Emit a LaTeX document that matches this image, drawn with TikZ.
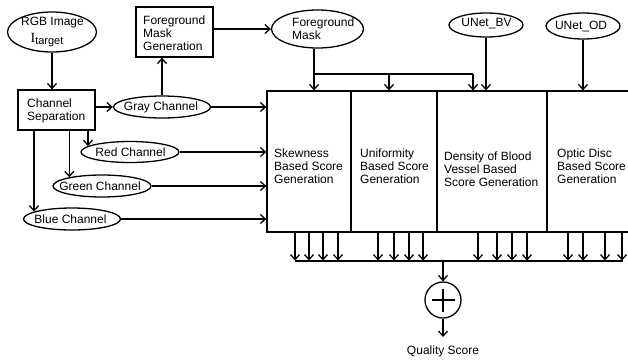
\documentclass[tikz,border=0pt]{standalone}
\usepackage{fontspec}
\setmainfont{Liberation Sans}
\newfontfamily\serifI{Liberation Serif}
\usetikzlibrary{arrows.meta,shapes.geometric}
\begin{document}
\begin{tikzpicture}[x=1pt,y=-1pt,
 every node/.style={font=\fontsize{12}{13}\selectfont},
 line/.style={line width=1.3pt},
 arr/.style={line width=1.3pt,-{Straight Barb[length=5pt,width=9pt]}},
 ell/.style 2 args={draw,line width=1.3pt,ellipse,minimum width=#1,minimum height=#2,inner sep=0pt},
 box/.style={draw,line width=1.3pt,rectangle,inner sep=0pt},
 txt/.style={inner sep=0pt,align=left},
]
\useasboundingbox (0,0) rectangle (628,360);
\clip (0,0) rectangle (628,360);
% ellipses and boxes
\node[ell={89}{40}] (rgb) at (52,32) {};
\node[txt] (rgbt1) at (52.5,23) {RGB Image};
\node[txt] (rgbt2) at (47,40) {{\serifI\fontsize{14}{14}\selectfont I}\raisebox{-2pt}{\fontsize{11}{11}\selectfont target}};
\node[box,minimum width=77,minimum height=50] (fmg) at (174.5,32) {};
\node[txt,anchor=west] (fmgt) at (143,33) {Foreground\\Mask\\Generation};
\node[box,minimum width=77,minimum height=40] (cs) at (56.5,110) {};
\node[txt,anchor=west] (cst) at (27,111) {Channel\\Separation};
\node[ell={92}{38}] (fm) at (317.5,29) {};
\node[txt,anchor=west] (fmt) at (292,29) {Foreground\\Mask};
\node[ell={74}{24}] (bv) at (486,25) {};
\node[txt] (bvt) at (486.5,24) {UNet\_BV};
\node[ell={74}{26}] (od) at (583,26) {};
\node[txt] (odt) at (581,26) {UNet\_OD};
\node[ell={97}{22}] (gray) at (162,107) {};
\node[txt] (grayt) at (161,107) {Gray Channel};
\node[ell={98}{21}] (red) at (130,152) {};
\node[txt] (redt) at (130.5,152) {Red Channel};
\node[ell={98}{22}] (green) at (102,186) {};
\node[txt] (greent) at (100,186) {Green Channel};
\node[ell={97}{22}] (blue) at (72,219) {};
\node[txt] (bluet) at (70.5,219) {Blue Channel};
% score sections
\node[box,minimum width=84,minimum height=141] (s1) at (309,161.5) {};
\node[box,minimum width=86,minimum height=141] (s2) at (394,161.5) {};
\node[box,minimum width=110,minimum height=141] (s3) at (492,161.5) {};
\node[box,minimum width=113,minimum height=141] (s4) at (603.5,161.5) {};
\node[txt,anchor=west] (t1) at (274,166) {Skewness\\Based Score\\Generation};
\node[txt,anchor=west] (t2) at (360,166) {Uniformity\\Based Score\\Generation};
\node[txt,anchor=west] (t3) at (444,169) {Density of Blood\\Vessel Based\\Score Generation};
\node[txt,anchor=west] (t4) at (557,166) {Optic Disc\\Based Score\\Generation};
% left connectors
\draw[arr] (rgb.south) -- (rgb.south |- cs.north);
\draw[arr] (cs.east |- gray.west) -- (gray.west);
\draw[arr] (gray.north) -- (gray.north |- fmg.south);
\draw[arr] (fmg.east |- fm.west) -- (fm.west);
\draw[arr] (gray.east) -- (gray.east -| s1.west);
\draw[arr] (red.east) -- (red.east -| s1.west);
\draw[arr] (green.east) -- (green.east -| s1.west);
\draw[arr] (blue.east) -- (blue.east -| s1.west);
\draw[arr] (cs.south -| red.172) -- (red.172);
\draw[arr] (cs.south -| green.165) -- (green.165);
\draw[arr] (cs.south -| blue.169) -- (blue.169);
% top connectors
\coordinate (brl) at (314,74);
\coordinate (brm) at (389,74);
\coordinate (brr) at (473,74);
\draw[arr] (fm.south -| brl) -- (brl |- s1.north);
\draw[line] (brl) -- (brr);
\draw[arr] (brm) -- (brm |- s2.north);
\draw[arr] (brr) -- (brr |- s3.north);
\draw[arr] (bv.south) -- (bv.south |- s3.north);
\draw[arr] (od.south) -- (od.south |- s4.north);
% bottom bus
\foreach \x/\s in {295/s1,309/s1,323/s1,338/s1,378/s2,394/s2,409/s2,423/s2,478/s3,497/s3,512/s3,527/s3,568/s4,583/s4,605/s4,622/s4}{
  \coordinate (b) at (\x,260.5);
  \draw[arr] (b |- \s.south) -- (b);
}
\coordinate (busl) at (295,261);
\coordinate (busr) at (623,261);
\draw[line] (busl) -- (busr);
\node[circle,draw,line width=1.3pt,minimum size=36pt,inner sep=0pt] (sum) at (443,300) {};
\draw[line] ([xshift=-11.5pt]sum.center) -- ([xshift=11.5pt]sum.center);
\draw[line] ([yshift=-11.5pt]sum.center) -- ([yshift=11.5pt]sum.center);
\coordinate (bm) at (443,261);
\draw[arr] (bm) -- (sum.north);
\coordinate (qs) at (443,337);
\draw[arr] (sum.south) -- (qs);
\node[txt] (qst) at (443,351) {Quality Score};
\end{tikzpicture}
\end{document}
